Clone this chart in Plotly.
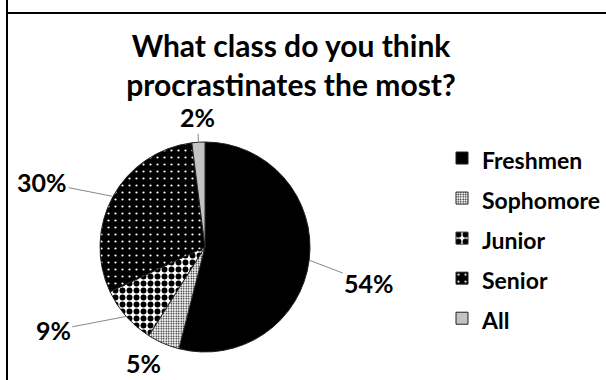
import math
import plotly.graph_objects as go

# ---- data ----
categories = ["Freshmen", "Sophomore", "Junior", "Senior", "All"]
values = [54, 5, 9, 30, 2]
label_texts = ["54%", "5%", "9%", "30%", "2%"]

# ---- styles ----
W, H = 606, 380
FONT = "Lato"
CX, CY, R = 205, 247, 105          # pie centre / radius in pixels
pat_shape = ["", ".", ".", ".", "."]
pat_fg = ["#000000", "#000000", "#000000", "#ffffff", "#777777"]
pat_bg = ["#000000", "#ffffff", "#ffffff", "#000000", "#ffffff"]
pat_size = [8, 2.5, 7, 7, 2]
pat_solid = [0.3, 0.3, 0.55, 0.08, 0.5]
fills = ["black", "white", "white", "black", "white"]
# label offsets (pixels) of label centre relative to slice-edge anchor
label_offsets = [(60, 23), (-20, 20), (-73, 14), (-71, -14), (-1, -25)]
show_leader = [True, False, True, True, True]
LEGEND_TEXT_PX = 23

fig = go.Figure()
fig.add_trace(go.Pie(
    labels=[f'<span style="font-size:{LEGEND_TEXT_PX}px">{c}</span>' for c in categories],
    values=values,
    sort=False,
    direction="clockwise",
    rotation=0,
    textinfo="none",
    marker=dict(colors=fills,
                pattern=dict(shape=pat_shape, fgcolor=pat_fg, bgcolor=pat_bg,
                             size=pat_size, solidity=pat_solid),
                line=dict(color="#222222", width=1)),
    domain=dict(x=[(CX - R) / W, (CX + R) / W],
                y=[(H - CY - R) / H, (H - CY + R) / H]),
    customdata=categories,
    hovertemplate="%{customdata}: %{percent}<extra></extra>",
))

# leader-line labels computed from slice mid-angles
total = sum(values)
cum = 0
annotations = []
for v, txt, (dx, dy), lead in zip(values, label_texts, label_offsets, show_leader):
    mid = (cum + v / 2) / total * 2 * math.pi
    cum += v
    ex = CX + R * math.sin(mid)
    ey = CY - R * math.cos(mid)
    annotations.append(dict(
        x=ex / W, y=1 - ey / H, xref="paper", yref="paper",
        text="<b>" + txt + "</b>", showarrow=True, ax=dx, ay=dy,
        arrowhead=0, arrowwidth=1,
        arrowcolor="#888888" if lead else "rgba(0,0,0,0)",
        font=dict(family=FONT, size=25, color="black"),
    ))

fig.update_layout(
    width=W, height=H,
    margin=dict(l=0, r=0, t=0, b=0),
    paper_bgcolor="white", plot_bgcolor="white",
    title=dict(text="<b>What class do you think<br>procrastinates the most?</b>",
               x=291 / W, xanchor="center", y=1 - 57 / H, yanchor="middle",
               font=dict(family=FONT, size=30, color="black")),
    legend=dict(x=442 / W, xanchor="left", y=1 - 133 / H, yanchor="top",
                font=dict(family=FONT, size=28.5, color="black", weight="bold"),
                bgcolor="rgba(0,0,0,0)"),
    annotations=annotations,
    shapes=[
        dict(type="line", xref="paper", yref="paper",
             x0=7 / W, x1=1, y0=1 - 13 / H, y1=1 - 13 / H,
             line=dict(color="black", width=2)),
        dict(type="line", xref="paper", yref="paper",
             x0=7 / W, x1=7 / W, y0=0, y1=1,
             line=dict(color="black", width=2)),
    ],
)
fig.write_html("out.html")
